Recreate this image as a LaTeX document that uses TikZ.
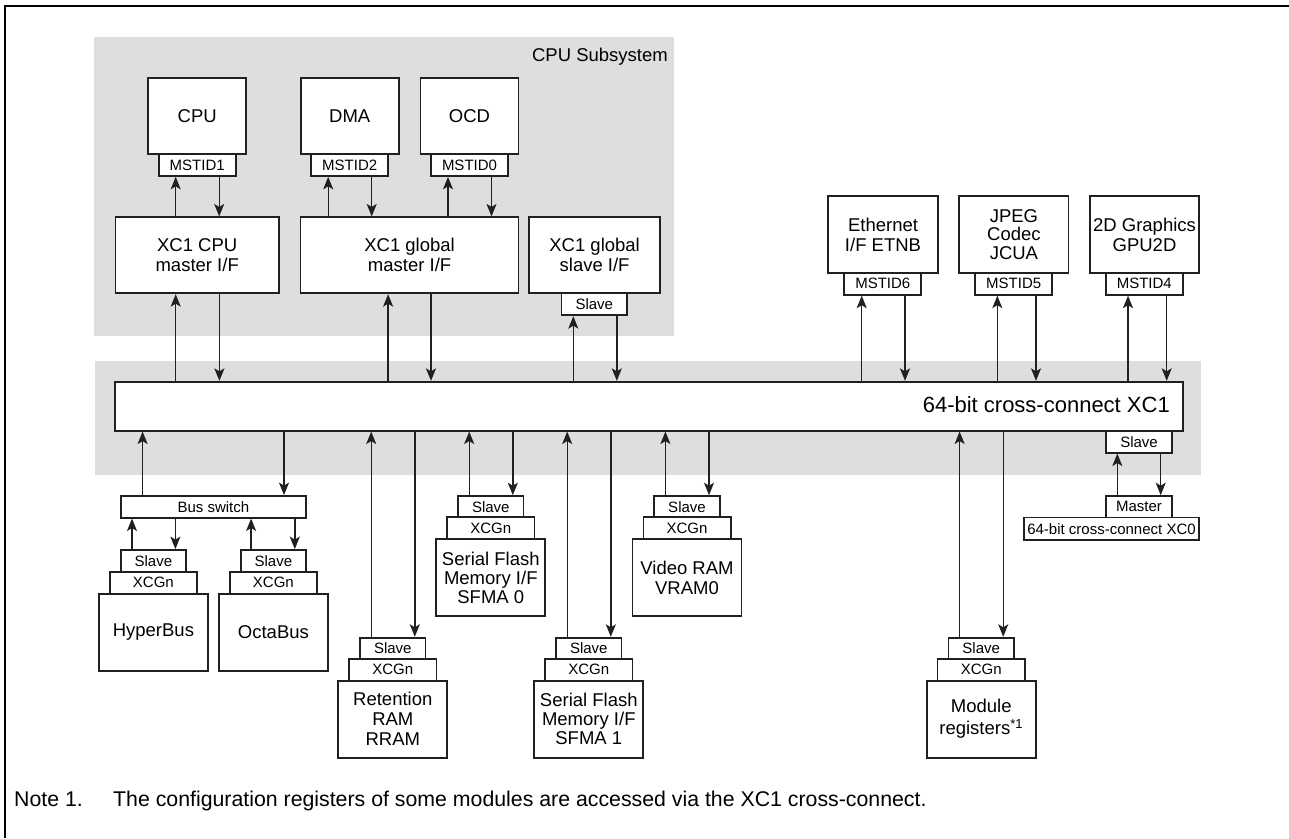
\documentclass[tikz,border=0pt]{standalone}
\usepackage{fontspec}
\setmainfont{Liberation Sans}
\usetikzlibrary{arrows.meta}
\definecolor{bandgray}{RGB}{221,222,224}
\definecolor{ink}{RGB}{35,31,32}
\begin{document}
\begin{tikzpicture}[x=1pt,y=-1pt,
  blk/.style={draw=ink, line width=1.7pt, fill=white, inner sep=0pt, align=center, font=\fontsize{18.5}{20}\selectfont},
  lbl/.style={draw=ink, line width=1.7pt, fill=white, inner sep=0pt, minimum height=22pt, font=\fontsize{15}{16}\selectfont},
  arr/.style={draw=ink, line width=1.4pt, -{Stealth[length=12.5pt,width=10pt,inset=3pt]}},
  txt/.style={inner sep=0pt, font=\fontsize{18.5}{20}\selectfont}
]
\useasboundingbox (0,0) rectangle (1289,838);
% frame
\draw[line width=2.5pt, black] (5,838) -- (5,6) -- (1289,6);
% gray areas
\fill[bandgray] (94,37) rectangle (674,336);
\fill[bandgray] (94.7,360.5) rectangle (1200.7,475);
\node[txt, anchor=base east] (cpusub) at (668,61.7) {CPU Subsystem};

% CPU subsystem masters
\node[blk, minimum width=98pt, minimum height=76pt] (cpu) at (197.2,115.9) {CPU};
\node[lbl, minimum width=77pt] (mst1) at (197.2,165) {MSTID1};
\node[blk, minimum width=98pt, minimum height=76pt] (dma) at (349.7,115.9) {DMA};
\node[lbl, minimum width=77pt] (mst2) at (349.7,165) {MSTID2};
\node[blk, minimum width=98pt, minimum height=76pt] (ocd) at (469.5,115.9) {OCD};
\node[lbl, minimum width=77pt] (mst0) at (469.5,165) {MSTID0};

\node[blk, minimum width=163.7pt, minimum height=76pt] (cpum) at (197.2,255.3) {XC1 CPU\\master I/F};
\node[blk, minimum width=218pt, minimum height=76pt] (glm) at (409.6,255.3) {XC1 global\\master I/F};
\node[blk, minimum width=131.2pt, minimum height=76pt] (gls) at (594.6,255.3) {XC1 global\\slave I/F};
\node[lbl, minimum width=65.5pt] (gslave) at (594.3,304.3) {Slave};

% other masters
\node[blk, minimum width=109.4pt, minimum height=76.4pt] (eth) at (883,234.5) {Ethernet\\I/F ETNB};
\node[lbl, minimum width=77pt] (mst6) at (882.8,283.8) {MSTID6};
\node[blk, minimum width=109.4pt, minimum height=76.4pt, font=\fontsize{18.5}{18.3}\selectfont] (jpeg) at (1013.9,234.5) {JPEG\\Codec\\JCUA};
\node[lbl, minimum width=77pt] (mst5) at (1013.7,283.8) {MSTID5};
\node[blk, minimum width=109.4pt, minimum height=76.4pt] (gpu) at (1144.5,234.5) {2D Graphics\\GPU2D};
\node[lbl, minimum width=77pt] (mst4) at (1144.3,283.8) {MSTID4};

% XC1
\node[draw=ink, line width=1.7pt, fill=white, minimum width=1068pt, minimum height=49pt, inner sep=0pt] (xc1) at (649.3,406.2) {};
\node[inner sep=0pt, anchor=base east, font=\fontsize{22}{24}\selectfont] (xc1lbl) at (1170,412.3) {64-bit cross-connect XC1};

% XC0 side
\node[lbl, minimum width=66pt] (xslave) at (1139,441.7) {Slave};
\node[lbl, minimum width=66pt, minimum height=21.3pt] (xmaster) at (1139,506.7) {Master};
\node[lbl, minimum width=175.6pt, minimum height=22.7pt] (xc0) at (1111.5,528.7) {64-bit cross-connect XC0};

% bus switch group
\node[lbl, minimum width=185.2pt, minimum height=21.7pt] (bus) at (213.4,506.8) {Bus switch};
\node[lbl, minimum width=65.2pt, minimum height=21.7pt] (hslave) at (153.4,560.8) {Slave};
\node[lbl, minimum width=87.2pt] (hxcg) at (153.4,582.8) {XCGn};
\node[blk, minimum width=109.3pt, minimum height=76.7pt] (hyper) at (153.4,632.3) {HyperBus};
\node[lbl, minimum width=65.2pt, minimum height=21.7pt] (oslave) at (273.4,560.8) {Slave};
\node[lbl, minimum width=87.2pt] (oxcg) at (273.4,582.8) {XCGn};
\node[blk, minimum width=109.3pt, minimum height=76.7pt] (octa) at (273.4,632.3) {OctaBus};

% Retention RAM
\node[lbl, minimum width=65.6pt, minimum height=21.3pt] (rslave) at (392.8,648.3) {Slave};
\node[lbl, minimum width=87.3pt] (rxcg) at (392.8,669.8) {XCGn};
\node[blk, minimum width=109pt, minimum height=77pt] (rram) at (392.8,719.2) {Retention\\RAM\\RRAM};
% SFMA0
\node[lbl, minimum width=65.6pt, minimum height=21.3pt] (s0slave) at (490.8,506.7) {Slave};
\node[lbl, minimum width=87.3pt] (s0xcg) at (490.8,528.2) {XCGn};
\node[blk, minimum width=109pt, minimum height=77pt, font=\fontsize{18.5}{19}\selectfont] (sfma0) at (490.8,577.6) {Serial Flash\\Memory I/F\\SFMA 0};
% SFMA1
\node[lbl, minimum width=65.6pt, minimum height=21.3pt] (s1slave) at (588.8,648.3) {Slave};
\node[lbl, minimum width=87.3pt] (s1xcg) at (588.8,669.8) {XCGn};
\node[blk, minimum width=109pt, minimum height=77pt, font=\fontsize{18.5}{19}\selectfont] (sfma1) at (588.8,719.2) {Serial Flash\\Memory I/F\\SFMA 1};
% Video RAM
\node[lbl, minimum width=65.6pt, minimum height=21.3pt] (vslave) at (687,506.7) {Slave};
\node[lbl, minimum width=87.3pt] (vxcg) at (687,528.2) {XCGn};
\node[blk, minimum width=109pt, minimum height=77pt] (vram) at (687,577.6) {Video RAM\\VRAM0};
% Module registers
\node[lbl, minimum width=65.6pt, minimum height=21.3pt] (mslave) at (981.2,648.3) {Slave};
\node[lbl, minimum width=87.3pt] (mxcg) at (981.2,669.8) {XCGn};
\node[blk, minimum width=109pt, minimum height=77pt, font=\fontsize{18.5}{22}\selectfont] (modreg) at (981.2,719.2) {Module\\registers\textsuperscript{*1}};

% note
\node[inner sep=0pt, anchor=base west, font=\fontsize{21.3}{23}\selectfont] (note) at (14,806.5) {Note 1.};
\node[inner sep=0pt, anchor=base west, font=\fontsize{21.3}{23}\selectfont] (notetext) at (113,806.5) {The configuration registers of some modules are accessed via the XC1 cross-connect.};

% arrows: masters in CPU subsystem
\foreach \m/\i in {mst1/cpum, mst2/glm, mst0/glm}{
  \draw[arr] ([xshift=-21.5pt]\m.south |- \i.north) -- ([xshift=-21.5pt]\m.south);
  \draw[arr] ([xshift=22pt]\m.south) -- ([xshift=22pt]\m.south |- \i.north);
}
% I/F to XC1
\draw[arr] ([xshift=-21.5pt]cpum.south |- xc1.north) -- ([xshift=-21.5pt]cpum.south);
\draw[arr] ([xshift=22.2pt]cpum.south) -- ([xshift=22.2pt]cpum.south |- xc1.north);
\draw[arr] ([xshift=-21.5pt]glm.south |- xc1.north) -- ([xshift=-21.5pt]glm.south);
\draw[arr] ([xshift=21.4pt]glm.south) -- ([xshift=21.4pt]glm.south |- xc1.north);
\draw[arr] ([xshift=-21pt]gslave.south |- xc1.north) -- ([xshift=-21pt]gslave.south);
\draw[arr] ([xshift=22.5pt]gslave.south) -- ([xshift=22.5pt]gslave.south |- xc1.north);
% other masters
\draw[arr] ([xshift=-21.1pt]mst6.south |- xc1.north) -- ([xshift=-21.1pt]mst6.south);
\draw[arr] ([xshift=22.2pt]mst6.south) -- ([xshift=22.2pt]mst6.south |- xc1.north);
\draw[arr] ([xshift=-16.4pt]mst5.south |- xc1.north) -- ([xshift=-16.4pt]mst5.south);
\draw[arr] ([xshift=22.3pt]mst5.south) -- ([xshift=22.3pt]mst5.south |- xc1.north);
\draw[arr] ([xshift=-16.3pt]mst4.south |- xc1.north) -- ([xshift=-16.3pt]mst4.south);
\draw[arr] ([xshift=22.4pt]mst4.south) -- ([xshift=22.4pt]mst4.south |- xc1.north);
% XC0
\draw[arr] ([xshift=-21.7pt]xmaster.north) -- ([xshift=-21.7pt]xmaster.north |- xslave.south);
\draw[arr] ([xshift=21.7pt]xslave.south) -- ([xshift=21.7pt]xslave.south |- xmaster.north);
% bus switch
\draw[arr] ([xshift=-70.8pt]bus.north) -- ([xshift=-70.8pt]bus.north |- xc1.south);
\draw[arr] ([xshift=70.6pt]bus.north |- xc1.south) -- ([xshift=70.6pt]bus.north);
\draw[arr] ([xshift=-21.4pt]hslave.north) -- ([xshift=-21.4pt]hslave.north |- bus.south);
\draw[arr] ([xshift=22pt]hslave.north |- bus.south) -- ([xshift=22pt]hslave.north);
\draw[arr] ([xshift=-22.3pt]oslave.north) -- ([xshift=-22.3pt]oslave.north |- bus.south);
\draw[arr] ([xshift=21.4pt]oslave.north |- bus.south) -- ([xshift=21.4pt]oslave.north);
% slaves on XC1
\foreach \s in {rslave, s0slave, s1slave, vslave, mslave}{
  \draw[arr] ([xshift=-21.6pt]\s.north) -- ([xshift=-21.6pt]\s.north |- xc1.south);
  \draw[arr] ([xshift=22pt]\s.north |- xc1.south) -- ([xshift=22pt]\s.north);
}
\end{tikzpicture}
\end{document}
